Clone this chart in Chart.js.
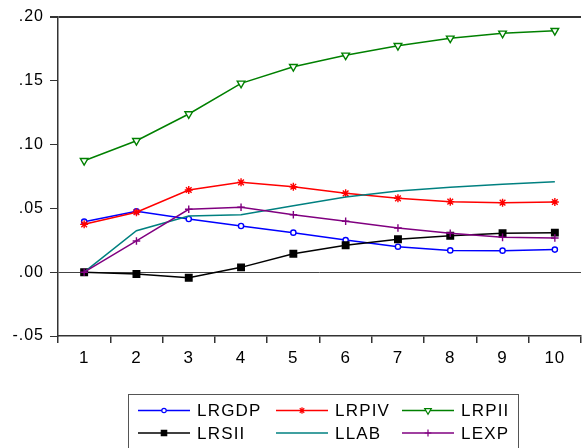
<!DOCTYPE html>
<html>
<head>
<meta charset="utf-8">
<script src="https://cdn.jsdelivr.net/npm/chart.js@4/dist/chart.umd.min.js"></script>
<style>
html,body{margin:0;padding:0;background:#fff;}
#wrap{width:587px;height:448px;position:relative;}
</style>
</head>
<body>
<div id="wrap"><canvas id="c" width="587" height="448"></canvas></div>
<script>
// ---- data ----
const categories = ['1','2','3','4','5','6','7','8','9','10'];
const seriesNames = ['LRGDP','LRPIV','LRPII','LRSII','LLAB','LEXP'];
const LRGDP = [0.0396,0.0477,0.0417,0.0362,0.0310,0.0252,0.0200,0.0171,0.0169,0.0177];
const LRPIV = [0.0375,0.0470,0.0644,0.0704,0.0670,0.0618,0.0579,0.0553,0.0545,0.0550];
const LRPII = [0.0874,0.1030,0.1240,0.1480,0.1610,0.1700,0.1775,0.1833,0.1872,0.1893];
const LRSII = [0.0000,-0.0014,-0.0043,0.0038,0.0145,0.0211,0.0258,0.0286,0.0305,0.0310];
const LLAB  = [0.0000,0.0325,0.0440,0.0450,0.0520,0.0590,0.0636,0.0665,0.0689,0.0709];
const LEXP  = [0.0000,0.0245,0.0493,0.0509,0.0450,0.0399,0.0346,0.0305,0.0273,0.0268];
const yTicks = [-0.05, 0.00, 0.05, 0.10, 0.15, 0.20];

// ---- styles ----
const styles = [
  {color:'#0000ff', pointStyle:'circle',   radius:2.6, rot:0,   fill:'#ffffff', lr:2.2},
  {color:'#ff0000', pointStyle:'star',     radius:4,   rot:0,   fill:'#ff0000', lr:3.2},
  {color:'#008000', pointStyle:'triangle', radius:4.4, rot:180, fill:'#ffffff', lr:3.8},
  {color:'#000000', pointStyle:'rect',     radius:4.6, rot:0,   fill:'#000000', lr:3.8},
  {color:'#008080', pointStyle:false,      radius:0,   rot:0,   fill:'#008080', lr:0},
  {color:'#800080', pointStyle:'cross',    radius:3.8, rot:0,   fill:'#800080', lr:3.4}
];
const values = [LRGDP, LRPIV, LRPII, LRSII, LLAB, LEXP];

const FONT = "'Liberation Sans', Arial, sans-serif";
Chart.defaults.font.family = FONT;
Chart.defaults.color = '#000';

const datasets = seriesNames.map((n,i)=>({
  label:n,
  data:values[i],
  borderColor:styles[i].color,
  backgroundColor:styles[i].fill,
  borderWidth:1.5,
  pointStyle:styles[i].pointStyle,
  pointRadius:styles[i].radius,
  pointRotation:styles[i].rot,
  pointBorderWidth:1.4,
  pointBackgroundColor:styles[i].fill,
  pointBorderColor:styles[i].color,
  tension:0,
  order:6-i
}));

const spacingPlugin = {
  id:'wideText',
  beforeDraw(chart){ try { chart.ctx.letterSpacing = '1px'; } catch(e){} },
  beforeDatasetsDraw(chart){ try { chart.ctx.letterSpacing = '0px'; } catch(e){} }
};

const legendPlugin = {
  id:'evLegend',
  afterDraw(chart){
    const ctx = chart.ctx;
    ctx.save();
    ctx.strokeStyle = '#555';
    ctx.lineWidth = 1;
    ctx.strokeRect(128.5, 394.5, 390, 60);
    const cols = [138, 276, 402];
    const rows = [410.5, 433];
    ctx.font = '17px ' + FONT;
    ctx.textBaseline = 'middle';
    ctx.textAlign = 'left';
    try { ctx.letterSpacing = '1.2px'; } catch(e){}
    seriesNames.forEach((n,i)=>{
      const x0 = cols[i%3], y = rows[Math.floor(i/3)];
      const st = styles[i];
      ctx.strokeStyle = st.color;
      ctx.lineWidth = 1.5;
      ctx.beginPath(); ctx.moveTo(x0, y); ctx.lineTo(x0+52, y); ctx.stroke();
      if (st.pointStyle) {
        ctx.fillStyle = st.fill;
        ctx.strokeStyle = st.color;
        ctx.lineWidth = 1.2;
        Chart.helpers.drawPoint(ctx, {pointStyle:st.pointStyle, rotation:st.rot, radius:st.lr, borderWidth:1.2}, x0+26, y);
      }
      ctx.fillStyle = '#000';
      ctx.fillText(n, x0+59, y+1);
    });
    ctx.restore();
  }
};

new Chart(document.getElementById('c'), {
  type:'line',
  data:{labels:categories, datasets},
  plugins:[spacingPlugin, legendPlugin],
  options:{
    responsive:false,
    animation:false,
    layout:{padding:{top:17,left:0,right:0,bottom:0}},
    plugins:{legend:{display:false}, tooltip:{enabled:false}},
    scales:{
      x:{
        type:'category',
        offset:true,
        afterFit(s){ s.height = 112; },
        grid:{offset:true, drawOnChartArea:false, drawTicks:true, tickLength:7, tickColor:'#333', lineWidth:1.5},
        border:{display:true, color:'#333', width:1.5},
        ticks:{font:{size:17, family:FONT}, padding:5, color:'#000', maxRotation:0, autoSkip:false}
      },
      y:{
        min:-0.05, max:0.20,
        afterFit(s){ s.width = 58; },
        afterBuildTicks(s){ s.ticks = yTicks.map(v=>({value:v})); },
        grid:{
          drawTicks:true, tickLength:8, tickColor:'#333',
          color:(c)=>{ const v=c.tick?Math.round(c.tick.value*100):null; return v===0?'#444':(v===20?'#333':'rgba(0,0,0,0)'); },
          lineWidth:(c)=>{ const v=c.tick?Math.round(c.tick.value*100):null; return v===20?2:1; }
        },
        border:{display:true, color:'#333', width:1.5},
        ticks:{
          font:{size:16, family:FONT}, padding:6, color:'#000',
          callback:(v)=>{ const r=Math.round(v*100)/100; return (r<0?'-':'') + Math.abs(r).toFixed(2).replace(/^0/,''); }
        }
      }
    }
  }
});
</script>
</body>
</html>
